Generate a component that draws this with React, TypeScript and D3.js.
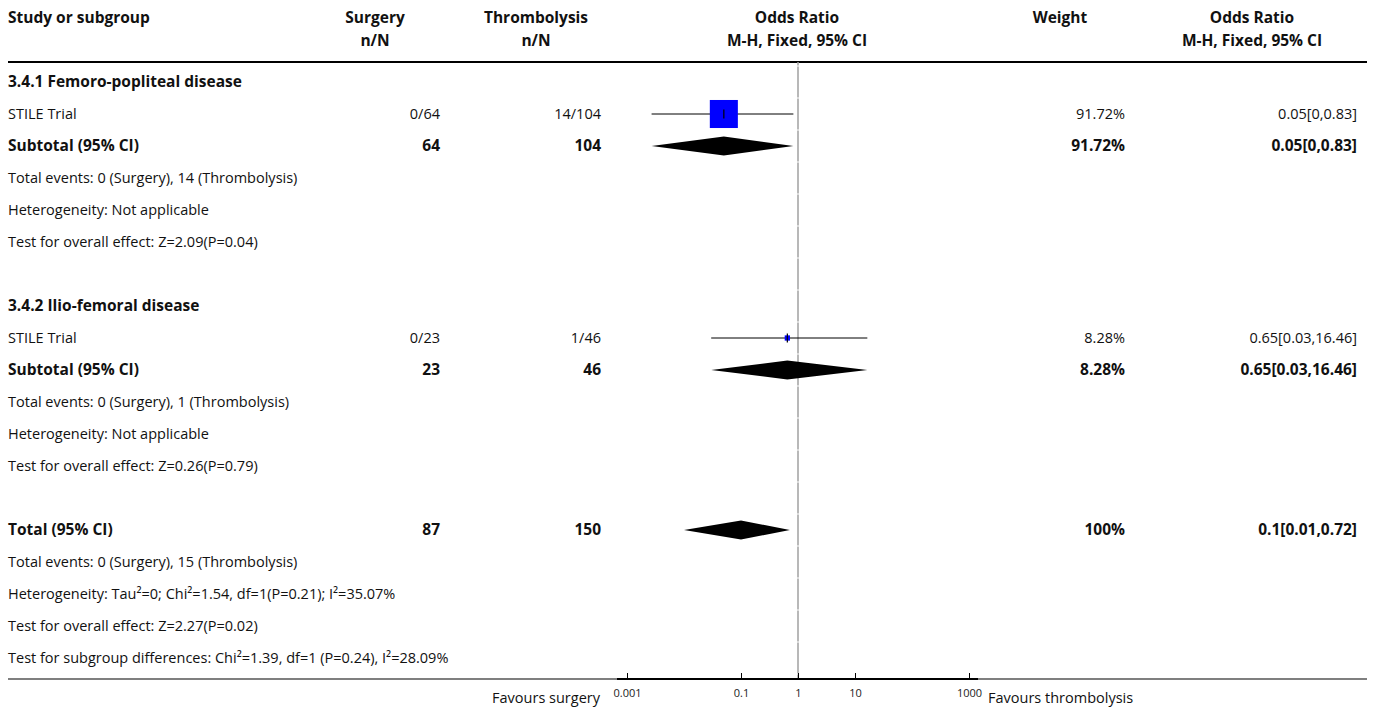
import React, { useEffect, useRef } from 'react';
import * as d3 from 'd3';

// study level data
const studyNames = ['STILE Trial', 'STILE Trial'];
const surgeryEvents = ['0/64', '0/23'];
const thromboEvents = ['14/104', '1/46'];
const studyOR = [0.05, 0.65];
const studyLow = [0.0027, 0.03];
const studyHigh = [0.83, 16.46];
const studyWeight = [91.72, 8.28];
const studyLabels = ['0.05[0,0.83]', '0.65[0.03,16.46]'];

// subtotals and overall
const subgroupNames = ['3.4.1 Femoro-popliteal disease', '3.4.2 Ilio-femoral disease'];
const subSurgeryN = ['64', '23'];
const subThromboN = ['104', '46'];
const subOR = [0.05, 0.65];
const subLow = [0.0027, 0.03];
const subHigh = [0.83, 16.46];
const subWeight = ['91.72%', '8.28%'];
const subLabels = ['0.05[0,0.83]', '0.65[0.03,16.46]'];
const subNotes = [
  ['Total events: 0 (Surgery), 14 (Thrombolysis)', 'Heterogeneity: Not applicable', 'Test for overall effect: Z=2.09(P=0.04)'],
  ['Total events: 0 (Surgery), 1 (Thrombolysis)', 'Heterogeneity: Not applicable', 'Test for overall effect: Z=0.26(P=0.79)'],
];

const totalN = ['87', '150'];
const totalOR = 0.1;
const totalLow = 0.01;
const totalHigh = 0.72;
const totalWeight = '100%';
const totalLabel = '0.1[0.01,0.72]';
const totalNotes = [
  'Total events: 0 (Surgery), 15 (Thrombolysis)',
  'Heterogeneity: Tau\u00b2=0; Chi\u00b2=1.54, df=1(P=0.21); I\u00b2=35.07%',
  'Test for overall effect: Z=2.27(P=0.02)',
  'Test for subgroup differences: Chi\u00b2=1.39, df=1 (P=0.24), I\u00b2=28.09%',
];

const tickValues = [0.001, 0.1, 1, 10, 1000];
const tickLabels = ['0.001', '0.1', '1', '10', '1000'];

const W = 1375;
const H = 709;
const FONT = "'Open Sans', 'Noto Sans', sans-serif";
const REG = 14.5;
const BOLD = 15.5;

const App = () => {
  const axisRef = useRef<SVGGElement>(null);

  const x = d3.scaleLog().domain([0.001, 1000]).range([627, 969]);
  const rowY = (i: number) => 82 + 32 * i;
  const boxSize = d3.scaleLinear().domain([0, 100]).range([3, 30.3]);

  useEffect(() => {
    const axis = d3.axisBottom(x)
      .tickValues(tickValues)
      .tickFormat((d, i) => tickLabels[i])
      .tickSizeInner(-6)
      .tickSizeOuter(0)
      .tickPadding(10);
    const g = d3.select(axisRef.current);
    g.selectAll('*').remove();
    g.call(axis as any);
    g.select('.domain').remove();
    g.selectAll('.tick line').attr('stroke', '#000').attr('stroke-width', 1);
    g.selectAll('.tick text')
      .attr('font-family', FONT)
      .attr('font-size', 11)
      .attr('fill', '#222');
  }, []);

  // build the rows
  type Row = { kind: string; idx: number; text: string };
  const rows: Row[] = [];
  subgroupNames.forEach((name, g) => {
    rows.push({ kind: 'heading', idx: g, text: name });
    rows.push({ kind: 'study', idx: g, text: studyNames[g] });
    rows.push({ kind: 'subtotal', idx: g, text: 'Subtotal (95% CI)' });
    subNotes[g].forEach(t => rows.push({ kind: 'note', idx: g, text: t }));
    rows.push({ kind: 'blank', idx: g, text: '' });
  });
  rows.push({ kind: 'total', idx: 0, text: 'Total (95% CI)' });
  totalNotes.forEach(t => rows.push({ kind: 'note', idx: 0, text: t }));

  const diamond = (est: number, lo: number, hi: number, cy: number) => {
    const h = 9.5;
    return `M${x(lo)},${cy} L${x(est)},${cy - h} L${x(hi)},${cy} L${x(est)},${cy + h} Z`;
  };

  const x1 = x(1);
  const lineSegs: [number, number][] = [[62, 65.5]];
  rows.forEach((r, i) => {
    const top = rowY(i) - 16;
    lineSegs.push([top + 0.5, top + 31.5]);
  });
  lineSegs.push([rowY(rows.length - 1) + 16.5, 679]);

  const txt = (props: any, content: string) => (
    <text fontFamily={FONT} fontSize={REG} fill="#111" {...props}>{content}</text>
  );
  const bold = (props: any, content: string) => txt({ fontWeight: 'bold', fontSize: BOLD, ...props }, content);

  return (
    <div style={{ position: 'absolute', left: 0, top: 0 }}>
      <svg width={W} height={H} style={{ display: 'block', background: '#fff' }}>
        {/* header */}
        {bold({ x: 8, y: 23 }, 'Study or subgroup')}
        {bold({ x: 375, y: 23, textAnchor: 'middle' }, 'Surgery')}
        {bold({ x: 375, y: 46, textAnchor: 'middle' }, 'n/N')}
        {bold({ x: 536, y: 23, textAnchor: 'middle' }, 'Thrombolysis')}
        {bold({ x: 536, y: 46, textAnchor: 'middle' }, 'n/N')}
        {bold({ x: 797, y: 23, textAnchor: 'middle' }, 'Odds Ratio')}
        {bold({ x: 797, y: 46, textAnchor: 'middle' }, 'M-H, Fixed, 95% CI')}
        {bold({ x: 1060, y: 23, textAnchor: 'middle' }, 'Weight')}
        {bold({ x: 1252, y: 23, textAnchor: 'middle' }, 'Odds Ratio')}
        {bold({ x: 1252, y: 46, textAnchor: 'middle' }, 'M-H, Fixed, 95% CI')}
        <line x1={8} x2={1367} y1={62} y2={62} stroke="#000" strokeWidth={2} />

        {/* line of no effect */}
        {lineSegs.map((s, i) => (
          <line key={'v' + i} x1={x1} x2={x1} y1={s[0]} y2={s[1]} stroke="#a0a0a0" strokeWidth={1.5} />
        ))}

        {rows.map((r, i) => {
          const cy = rowY(i);
          const by = cy + 5;
          const g = r.idx;
          if (r.kind === 'heading') {
            return <g key={i}>{bold({ x: 8, y: by }, r.text)}</g>;
          }
          if (r.kind === 'note') {
            return <g key={i}>{txt({ x: 8, y: by }, r.text)}</g>;
          }
          if (r.kind === 'study') {
            const s = boxSize(studyWeight[g]);
            const cx = x(studyOR[g]);
            return (
              <g key={i}>
                {txt({ x: 8, y: by }, r.text)}
                {txt({ x: 440, y: by, textAnchor: 'end' }, surgeryEvents[g])}
                {txt({ x: 601, y: by, textAnchor: 'end' }, thromboEvents[g])}
                <line x1={x(studyLow[g])} x2={x(studyHigh[g])} y1={cy} y2={cy} stroke="#000" strokeWidth={1} />
                <rect x={cx - s / 2} y={cy - s / 2} width={s} height={s} fill="#0000ff" />
                <line x1={cx} x2={cx} y1={cy - 4.5} y2={cy + 4.5} stroke="#000" strokeWidth={1.2} />
                {txt({ x: 1125, y: by, textAnchor: 'end' }, studyWeight[g].toFixed(2) + '%')}
                {txt({ x: 1357, y: by, textAnchor: 'end' }, studyLabels[g])}
              </g>
            );
          }
          if (r.kind === 'subtotal') {
            return (
              <g key={i}>
                {bold({ x: 8, y: by }, r.text)}
                {bold({ x: 440, y: by, textAnchor: 'end' }, subSurgeryN[g])}
                {bold({ x: 601, y: by, textAnchor: 'end' }, subThromboN[g])}
                <path d={diamond(subOR[g], subLow[g], subHigh[g], cy)} fill="#000" />
                {bold({ x: 1125, y: by, textAnchor: 'end' }, subWeight[g])}
                {bold({ x: 1357, y: by, textAnchor: 'end' }, subLabels[g])}
              </g>
            );
          }
          if (r.kind === 'total') {
            return (
              <g key={i}>
                {bold({ x: 8, y: by }, r.text)}
                {bold({ x: 440, y: by, textAnchor: 'end' }, totalN[0])}
                {bold({ x: 601, y: by, textAnchor: 'end' }, totalN[1])}
                <path d={diamond(totalOR, totalLow, totalHigh, cy)} fill="#000" />
                {bold({ x: 1125, y: by, textAnchor: 'end' }, totalWeight)}
                {bold({ x: 1357, y: by, textAnchor: 'end' }, totalLabel)}
              </g>
            );
          }
          return null;
        })}

        {/* bottom rule and axis */}
        <line x1={8} x2={1367} y1={679} y2={679} stroke="#000" strokeWidth={1.2} />
        <line x1={617} x2={978} y1={679} y2={679} stroke="#000" strokeWidth={2} />
        <g ref={axisRef} transform="translate(0,679)" />
        {txt({ x: 600, y: 703, textAnchor: 'end' }, 'Favours surgery')}
        {txt({ x: 988, y: 703 }, 'Favours thrombolysis')}
      </svg>
    </div>
  );
};

export default App;
